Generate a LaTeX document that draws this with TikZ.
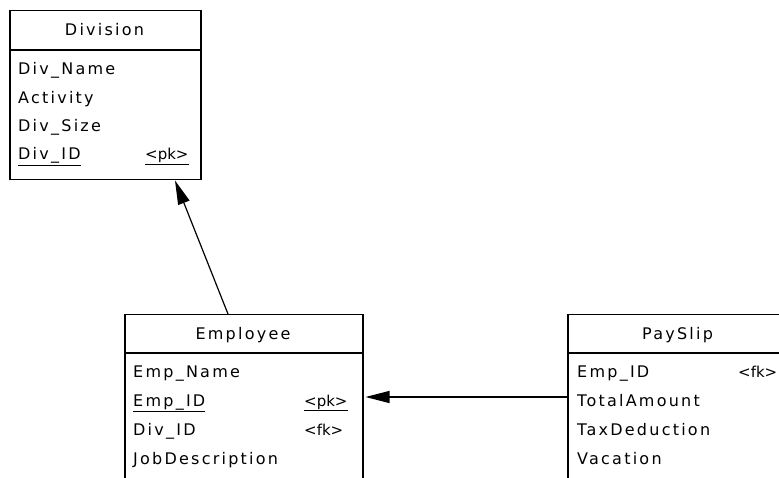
\documentclass[tikz,border=0pt]{standalone}
\usepackage{fontspec}
\usetikzlibrary{arrows.meta}
\newfontfamily\erfont[LetterSpace=14]{DejaVu Sans}
\newfontfamily\keyfont{DejaVu Sans}

\tikzset{
  entity/.style={draw, line width=1.5pt, anchor=north west, inner sep=0pt},
  title/.style={font=\erfont\fontsize{16}{18}\selectfont, anchor=base, inner sep=0pt},
  attr/.style={font=\erfont\fontsize{16}{18}\selectfont, anchor=base west, inner sep=0pt},
  key/.style={font=\keyfont\fontsize{15}{17}\selectfont, anchor=base west, inner sep=0pt},
  link/.style={line width=1.2pt, -{Triangle[length=24pt, width=12pt]}}
}

\begin{document}
\begin{tikzpicture}[x=1pt, y=-1pt]
  \useasboundingbox (0,0) rectangle (779,478);
  \clip (0,0) rectangle (779,478);

  % Division table
  \node[entity, minimum width=191pt, minimum height=169pt] (division) at (9,10) {};
  \draw[line width=1.5pt] ([yshift=-40pt]division.north west) -- ([yshift=-40pt]division.north east);
  \node[title] (division-title) at (104.5,36) {Division};
  \node[attr] (div-name) at (18,75) {Div\_Name};
  \node[attr] (div-activity) at (18,104) {Activity};
  \node[attr] (div-size) at (18,132) {Div\_Size};
  \node[attr] (div-id) at (18,160) {\underline{Div\_ID}};
  \node[key] (div-id-key) at (145,160) {\underline{<pk>}};

  % Employee table
  \node[entity, minimum width=238pt, minimum height=220pt] (employee) at (124,314) {};
  \draw[line width=1.5pt] ([yshift=-39pt]employee.north west) -- ([yshift=-39pt]employee.north east);
  \node[title] (employee-title) at (243,339) {Employee};
  \node[attr] (emp-name) at (133,377) {Emp\_Name};
  \node[attr] (emp-id) at (133,406) {\underline{Emp\_ID}};
  \node[key] (emp-id-key) at (304,406) {\underline{<pk>}};
  \node[attr] (emp-div) at (133,435) {Div\_ID};
  \node[key] (emp-div-key) at (304,435) {<fk>};
  \node[attr] (emp-job) at (133,464) {JobDescription};

  % PaySlip table
  \node[entity, minimum width=221pt, minimum height=220pt] (payslip) at (567,314) {};
  \draw[line width=1.5pt] ([yshift=-39pt]payslip.north west) -- ([yshift=-39pt]payslip.north east);
  \node[title] (payslip-title) at (677.5,339) {PaySlip};
  \node[attr] (pay-emp) at (577,377) {Emp\_ID};
  \node[key] (pay-emp-key) at (738,377) {<fk>};
  \node[attr] (pay-total) at (577,406) {TotalAmount};
  \node[attr] (pay-tax) at (577,435) {TaxDeduction};
  \node[attr] (pay-vacation) at (577,464) {Vacation};

  % references
  \draw[link] ([xshift=104pt]employee.north west) -- ([xshift=166pt]division.south west);
  \draw[link, shorten >=2pt] ([yshift=-83pt]payslip.north west) -- ([yshift=-83pt]employee.north east);
\end{tikzpicture}
\end{document}
